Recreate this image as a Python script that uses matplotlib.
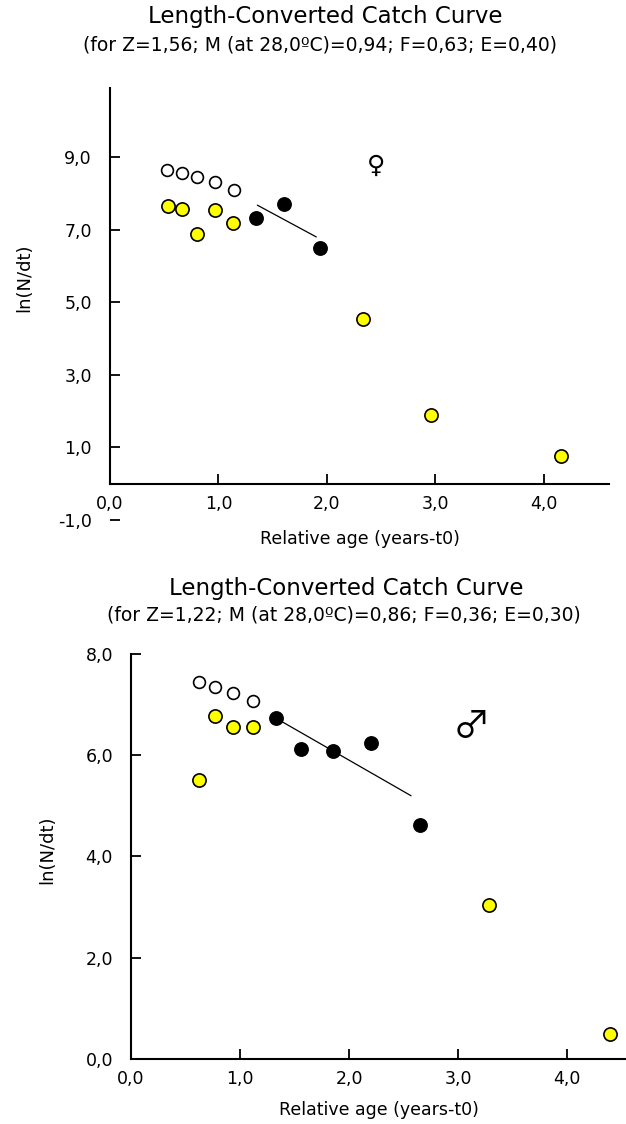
import matplotlib
matplotlib.use("Agg")
import matplotlib.pyplot as plt

# ---- dados: fêmeas (painel de cima) ----
f_open_x = [0.53, 0.66, 0.80, 0.97, 1.14]
f_open_y = [8.63, 8.57, 8.45, 8.30, 8.09]
f_yel_x = [0.535, 0.664, 0.804, 0.967, 1.136, 2.33, 2.96, 4.16]
f_yel_y = [7.65, 7.56, 6.88, 7.54, 7.18, 4.54, 1.90, 0.76]
f_blk_x = [1.347, 1.60, 1.94]
f_blk_y = [7.33, 7.70, 6.49]
f_line_x = [1.36, 1.90]
f_line_y = [7.67, 6.80]
f_xticks = [0, 1, 2, 3, 4]
f_xlabels = ["0,0", "1,0", "2,0", "3,0", "4,0"]
f_yticks = [-1, 1, 3, 5, 7, 9]
f_ylabels = ["-1,0", "1,0", "3,0", "5,0", "7,0", "9,0"]
f_title = "(for Z=1,56; M (at 28,0\u00baC)=0,94; F=0,63; E=0,40)"

# ---- dados: machos (painel de baixo) ----
m_open_x = [0.621, 0.771, 0.933, 1.117]
m_open_y = [7.45, 7.355, 7.23, 7.07]
m_yel_x = [0.621, 0.771, 0.933, 1.117, 3.287, 4.397]
m_yel_y = [5.51, 6.77, 6.55, 6.55, 3.03, 0.48]
m_blk_x = [1.33, 1.561, 1.855, 2.197, 2.648]
m_blk_y = [6.73, 6.12, 6.075, 6.24, 4.61]
m_line_x = [1.33, 2.567]
m_line_y = [6.73, 5.20]
m_xticks = [0, 1, 2, 3, 4]
m_xlabels = ["0,0", "1,0", "2,0", "3,0", "4,0"]
m_yticks = [0, 2, 4, 6, 8]
m_ylabels = ["0,0", "2,0", "4,0", "6,0", "8,0"]
m_title = "(for Z=1,22; M (at 28,0\u00baC)=0,86; F=0,36; E=0,30)"

plt.rcParams['font.family'] = ['DejaVu Sans']


def desenhar_painel(ax, ox, oy, yx, yy, bx, by, lx, ly, xt, xl, yt, yl, xlim, ylim):
    ax.plot(lx, ly, color='black', linewidth=0.9, zorder=2)
    ax.plot(ox, oy, 'o', markersize=8.5, markerfacecolor='white', markeredgecolor='black',
            markeredgewidth=1.2, linestyle='none', zorder=3, clip_on=False)
    ax.plot(yx, yy, 'o', markersize=9.5, markerfacecolor='#ffff00', markeredgecolor='black',
            markeredgewidth=1.2, linestyle='none', zorder=3, clip_on=False)
    ax.plot(bx, by, 'o', markersize=9.5, markerfacecolor='black', markeredgecolor='black',
            markeredgewidth=1.2, linestyle='none', zorder=3, clip_on=False)
    ax.set_xlim(*xlim)
    ax.set_ylim(*ylim)
    ax.spines['top'].set_visible(False)
    ax.spines['right'].set_visible(False)
    ax.spines['bottom'].set_position(('data', 0))
    ax.spines['left'].set_bounds(0, ylim[1])
    for s in ('left', 'bottom'):
        ax.spines[s].set_linewidth(1.5)
    ax.set_xticks(xt)
    ax.set_xticklabels(xl)
    ax.set_yticks(yt)
    ax.set_yticklabels(yl)
    ax.tick_params(axis='both', direction='in', length=7, width=1.3, labelsize=12.5)
    ax.tick_params(axis='y', pad=13)
    ax.tick_params(axis='x', pad=8)
    ax.set_xlabel('Relative age (years-t0)', fontsize=12.5)
    ax.set_ylabel('ln(N/dt)', fontsize=13)
    ax.patch.set_visible(False)


fig = plt.figure(figsize=(6.26, 11.24), dpi=100)

# painel de cima
ax1 = fig.add_axes([110 / 626, (1124 - 520) / 1124, (609 - 110) / 626, (520 - 88) / 1124])
desenhar_painel(ax1, f_open_x, f_open_y, f_yel_x, f_yel_y, f_blk_x, f_blk_y, f_line_x, f_line_y,
                f_xticks, f_xlabels, f_yticks, f_ylabels, (0, 4.6), (-1, 10.9))
ax1.text(2.45, 8.75, '\u2640', fontsize=18, fontweight='bold', ha='center', va='center')
ax1.xaxis.set_label_coords(0.5, -0.022)
ax1.yaxis.set_label_coords(-0.154, 0.56)
fig.text(325 / 626, 1 - 16 / 1124, 'Length-Converted Catch Curve', fontsize=16.5, ha='center', va='center')
fig.text(320 / 626, 1 - 45 / 1124, f_title, fontsize=13.5, ha='center', va='center')

# painel de baixo
ax2 = fig.add_axes([131 / 626, (1124 - 1058.7) / 1124, (626 - 131) / 626, (1058.7 - 654) / 1124])
desenhar_painel(ax2, m_open_x, m_open_y, m_yel_x, m_yel_y, m_blk_x, m_blk_y, m_line_x, m_line_y,
                m_xticks, m_xlabels, m_yticks, m_ylabels, (0, 4.54), (0, 8))
ax2.text(3.12, 6.55, '\u2642', fontsize=27, ha='center', va='center',
         family=['Noto Sans CJK JP', 'DejaVu Sans'])
ax2.xaxis.set_label_coords(0.5, -0.105)
ax2.yaxis.set_label_coords(-0.15, 0.516)
fig.text(346 / 626, 1 - 588 / 1124, 'Length-Converted Catch Curve', fontsize=16.5, ha='center', va='center')
fig.text(344 / 626, 1 - 615 / 1124, m_title, fontsize=13.5, ha='center', va='center')

fig.savefig('out.png', dpi=100)
print("[SUCESSO] out.png")
